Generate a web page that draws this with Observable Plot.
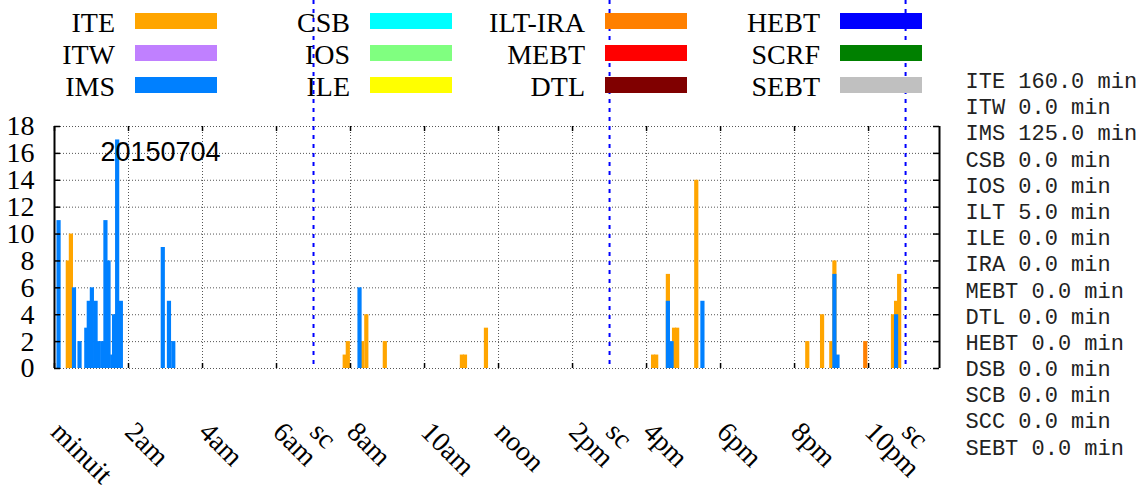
<!DOCTYPE html>
<html>
<head>
<meta charset="utf-8">
<script src="https://cdn.jsdelivr.net/npm/d3@7"></script>
<script src="https://cdn.jsdelivr.net/npm/@observablehq/plot@0.6"></script>
<style>
  html, body { margin: 0; padding: 0; background: #fff; overflow: hidden; }
</style>
</head>
<body>
<div id="chart"></div>
<script>
// ---- data (minutes after midnight, value) ----
const iteTimes  = [19, 24, 468, 473, 496, 503, 533, 658, 663, 697, 968, 973, 992, 1002, 1007, 1038, 1218, 1242, 1257, 1262, 1357, 1362, 1367];
const iteValues = [8, 10, 1, 2, 2, 4, 2, 1, 1, 3, 1, 1, 7, 3, 3, 14, 2, 4, 2, 8, 4, 5, 7];

const imsTimes  = [4, 29, 38, 49, 53, 58, 64, 69, 75, 80, 85, 91, 94, 99, 105, 173, 183, 190, 492, 992, 998, 1048, 1262, 1267, 1362];
const imsValues = [11, 6, 2, 3, 5, 6, 5, 2, 2, 11, 8, 1, 4, 17, 5, 9, 5, 2, 6, 5, 2, 5, 7, 1, 4];

const iltTimes  = [1312];
const iltValues = [2];

const dateLabel = "20150704";

const tickMinutes = [0, 120, 240, 360, 480, 600, 720, 840, 960, 1080, 1200, 1320];
const tickLabels  = ["minuit", "2am", "4am", "6am", "8am", "10am", "noon", "2pm", "4pm", "6pm", "8pm", "10pm"];
const shiftMinutes = [420, 900, 1380];
const shiftLabel = "sc";

const yTicks = [0, 2, 4, 6, 8, 10, 12, 14, 16, 18];

const legendNames  = ["ITE", "ITW", "IMS", "CSB", "IOS", "ILE", "ILT-IRA", "MEBT", "DTL", "HEBT", "SCRF", "SEBT"];
const legendColors = ["#ffa500", "#c080ff", "#0080ff", "#00ffff", "#80ff80", "#ffff00", "#ff8000", "#ff0000", "#800000", "#0000ff", "#008000", "#c0c0c0"];

const summaryNames   = ["ITE", "ITW", "IMS", "CSB", "IOS", "ILT", "ILE", "IRA", "MEBT", "DTL", "HEBT", "DSB", "SCB", "SCC", "SEBT"];
const summaryMinutes = [160, 0, 125, 0, 0, 5, 0, 0, 0, 0, 0, 0, 0, 0, 0];

// ---- layout / style ----
const W = 1148, H = 492;
const mL = 54, mR = 209, mT = 126, mB = 124;
const innerW = W - mL - mR, innerH = H - mT - mB;
const serif = "Liberation Serif, Times New Roman, serif";
const sans = "Liberation Sans, Arial, sans-serif";
const mono = "Liberation Mono, Courier New, monospace";
const barWidth = 6.8; // minutes

const colorOf = name => legendColors[legendNames.indexOf(name)];
const table = (ts, vs) => ts.map((t, i) => ({t, v: vs[i]}));

const xTickAll = tickMinutes.concat(shiftMinutes);
const xLabelAll = tickLabels.concat(shiftMinutes.map(() => shiftLabel));
const summaryText = summaryNames.map((n, i) => `${n} ${summaryMinutes[i].toFixed(1)} min`).join("\n");

const gridStyle = {stroke: "#555", strokeOpacity: 1, strokeDasharray: "1,2", strokeWidth: 1};

const svg = Plot.plot({
  width: W, height: H,
  marginLeft: mL, marginRight: mR, marginTop: mT, marginBottom: mB,
  style: {background: "#fff", color: "#000", overflow: "visible"},
  x: {domain: [0, 1435], axis: null},
  y: {domain: [0, 18], axis: null},
  marks: [
    Plot.gridY(yTicks, gridStyle),
    Plot.gridX(tickMinutes.slice(1), gridStyle),
    Plot.rectY(table(iteTimes, iteValues), {x1: "t", x2: d => d.t + barWidth, y: "v", fill: colorOf("ITE")}),
    Plot.rectY(table(imsTimes, imsValues), {x1: "t", x2: d => d.t + barWidth, y: "v", fill: colorOf("IMS")}),
    Plot.rectY(table(iltTimes, iltValues), {x1: "t", x2: d => d.t + barWidth, y: "v", fill: colorOf("ILT-IRA")}),
    // inward tick marks (left/right/bottom/top)
    Plot.ruleY(yTicks, {stroke: "#000", strokeWidth: 1.5, insetRight: innerW - 6}),
    Plot.ruleY(yTicks, {stroke: "#000", strokeWidth: 1.5, insetLeft: innerW - 6}),
    Plot.ruleX(tickMinutes, {stroke: "#000", strokeWidth: 1.5, insetTop: innerH - 5}),
    Plot.ruleX(tickMinutes, {stroke: "#000", strokeWidth: 1.5, insetBottom: innerH - 5}),
    // left and right borders
    Plot.ruleX([0, 1435], {stroke: "#000", strokeWidth: 2}),
    Plot.axisY({ticks: yTicks, tickSize: 0, tickPadding: 20, fontSize: 28, fontFamily: serif, label: null, tickFormat: d => d}),
    Plot.text(xTickAll, {x: d => d, text: (d, i) => xLabelAll[i], frameAnchor: "bottom", dx: -5, dy: 65,
      rotate: 45, textAnchor: "start", lineAnchor: "bottom", fontSize: 28, fontFamily: serif}),
    Plot.text([dateLabel], {frameAnchor: "top-left", dx: 46, dy: 34, textAnchor: "start", lineAnchor: "bottom",
      fontSize: 27, fontFamily: sans}),
    Plot.text([summaryText], {frameAnchor: "top-right", dx: 26, dy: -57, textAnchor: "start", lineAnchor: "top",
      lineHeight: 1.19, fontSize: 22, fontFamily: mono, fill: "#222"}),
    Plot.ruleX(shiftMinutes, {stroke: "#0000ff", strokeWidth: 2, strokeDasharray: "4,5", insetTop: -mT, ariaLabel: "shift-change"})
  ]
});

// legend (drawn beneath the shift-change lines)
const g = d3.create("svg:g").attr("aria-label", "legend");
legendNames.forEach((name, i) => {
  const col = Math.floor(i / 3), row = i % 3;
  g.append("text")
    .attr("x", 115 + 235 * col).attr("y", 32 + 32 * row)
    .attr("text-anchor", "end").attr("font-family", serif).attr("font-size", 28).attr("fill", "#000")
    .text(name);
  g.append("rect")
    .attr("x", 135 + 235 * col).attr("y", 13 + 32 * row)
    .attr("width", 82).attr("height", 16).attr("fill", legendColors[i]);
});
const shiftNode = svg.querySelector('[aria-label="shift-change"]');
svg.insertBefore(g.node(), shiftNode);

document.getElementById("chart").appendChild(svg);
</script>
</body>
</html>
